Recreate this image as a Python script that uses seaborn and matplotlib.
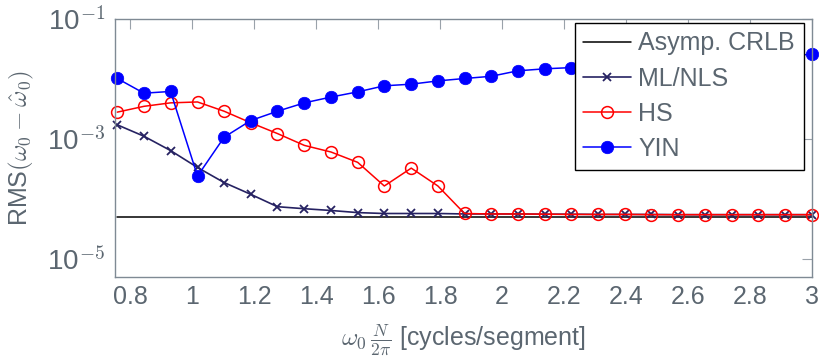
import numpy as np
import pandas as pd
import matplotlib
matplotlib.use("Agg")
import matplotlib.pyplot as plt
import seaborn as sns

# ---- data ----
freq = [0.758, 0.844, 0.930, 1.017, 1.103, 1.189, 1.275, 1.362, 1.448, 1.534,
        1.620, 1.707, 1.793, 1.879, 1.965, 2.051, 2.138, 2.224, 2.310, 2.396,
        2.482, 2.569, 2.655, 2.741, 2.827, 2.914, 3.000]
crlb = [5.0e-5] * 27
ml_nls = [1.72e-3, 1.11e-3, 6.4e-4, 3.34e-4, 1.87e-4, 1.19e-4, 7.4e-5, 6.85e-5, 6.4e-5,
          5.9e-5, 5.7e-5, 5.7e-5, 5.7e-5, 5.6e-5, 5.6e-5, 5.6e-5, 5.55e-5, 5.55e-5,
          5.5e-5, 5.5e-5, 5.5e-5, 5.45e-5, 5.45e-5, 5.45e-5, 5.45e-5, 5.45e-5, 5.45e-5]
hs = [2.8e-3, 3.5e-3, 4.0e-3, 4.14e-3, 2.9e-3, 1.86e-3, 1.23e-3, 7.8e-4, 6.05e-4,
      4.07e-4, 1.64e-4, 3.26e-4, 1.64e-4, 5.7e-5, 5.6e-5, 5.6e-5, 5.55e-5, 5.5e-5,
      5.5e-5, 5.5e-5, 5.45e-5, 5.45e-5, 5.45e-5, 5.45e-5, 5.45e-5, 5.45e-5, 5.45e-5]
yin = [1.02e-2, 5.8e-3, 6.2e-3, 2.4e-4, 1.07e-3, 2.03e-3, 2.9e-3, 4.0e-3, 5.0e-3,
       6.1e-3, 7.7e-3, 8.2e-3, 9.3e-3, 1.02e-2, 1.11e-2, 1.37e-2, 1.48e-2, 1.55e-2,
       1.65e-2, 1.75e-2, 1.85e-2, 1.95e-2, 2.05e-2, 2.15e-2, 2.3e-2, 2.45e-2, 2.58e-2]
x_ticks = [0.8, 1.0, 1.2, 1.4, 1.6, 1.8, 2.0, 2.2, 2.4, 2.6, 2.8, 3.0]
x_ticklabels = ["0.8", "1", "1.2", "1.4", "1.6", "1.8", "2", "2.2", "2.4", "2.6", "2.8", "3"]
y_ticks = [1e-5, 1e-3, 1e-1]
y_ticklabels = [r"10$^{\mathsf{-5}}$", r"10$^{\mathsf{-3}}$", r"10$^{\mathsf{-1}}$"]

df = pd.DataFrame({"freq": freq, "crlb": crlb, "ml": ml_nls, "hs": hs, "yin": yin})

# ---- style ----
sns.set_theme(style="white")
TXT = "#5b6670"
SPINE = "#7f8a94"
plt.rcParams["font.family"] = ["Liberation Sans", "DejaVu Sans"]
plt.rcParams["mathtext.fontset"] = "cm"
plt.rcParams["text.color"] = TXT
plt.rcParams["axes.labelcolor"] = TXT
plt.rcParams["xtick.color"] = "#9aa2aa"
plt.rcParams["ytick.color"] = "#9aa2aa"
plt.rcParams["xtick.labelcolor"] = TXT
plt.rcParams["ytick.labelcolor"] = TXT

fig = plt.figure(figsize=(8.2, 3.6), dpi=100)
ax = fig.add_axes([0.14, 0.231, 0.85, 0.716])

NAVY = "#262262"
sns.lineplot(data=df, x="freq", y="crlb", ax=ax, color="black", lw=1.1,
             label="Asymp. CRLB", clip_on=False)
sns.lineplot(data=df, x="freq", y="ml", ax=ax, color=NAVY, lw=1.2,
             marker="x", markersize=6, markeredgewidth=1.3,
             markeredgecolor=NAVY, markerfacecolor=NAVY,
             label="ML/NLS", clip_on=False)
sns.lineplot(data=df, x="freq", y="hs", ax=ax, color="#ff0000", lw=1.1,
             marker="o", markersize=8.5, markerfacecolor="none",
             markeredgecolor="#ff0000", markeredgewidth=1.1,
             label="HS", clip_on=False)
sns.lineplot(data=df, x="freq", y="yin", ax=ax, color="#0000ff", lw=1.1,
             marker="o", markersize=9, markerfacecolor="#0000ff",
             markeredgecolor="#0000ff", markeredgewidth=0.5,
             label="YIN", clip_on=False)

ax.set_yscale("log")
ax.set_xlim(0.75, 3.0)
ax.set_ylim(5e-6, 1e-1)
ax.set_xticks(x_ticks)
ax.set_xticklabels(x_ticklabels)
ax.set_yticks(y_ticks)
ax.set_yticklabels(y_ticklabels)
ax.yaxis.set_minor_locator(matplotlib.ticker.NullLocator())
ax.tick_params(axis="both", which="major", direction="in", length=7, width=0.8,
               top=True, right=True, labelsize=18, pad=6)
ax.tick_params(axis="y", labelsize=20, pad=7)

for s in ax.spines.values():
    s.set_color(SPINE)
    s.set_linewidth(1.0)

ax.set_xlabel(r"$\omega_0\,\frac{N}{2\pi}$ [cycles/segment]", fontsize=18, labelpad=10)
ax.set_ylabel(r"RMS$(\omega_0-\hat{\omega}_0)$", fontsize=18, labelpad=8)

leg = ax.legend(loc="upper right", bbox_to_anchor=(0.9885, 0.986), borderaxespad=0,
                fontsize=18, frameon=True, fancybox=False, handlelength=1.9,
                handletextpad=0.3, labelspacing=0.45, borderpad=0.35)
leg.get_frame().set_edgecolor("black")
leg.get_frame().set_linewidth(1.0)
leg.get_frame().set_alpha(1.0)
leg.set_zorder(10)
for t in leg.get_texts():
    t.set_color(TXT)

fig.savefig("out.png", dpi=100)
